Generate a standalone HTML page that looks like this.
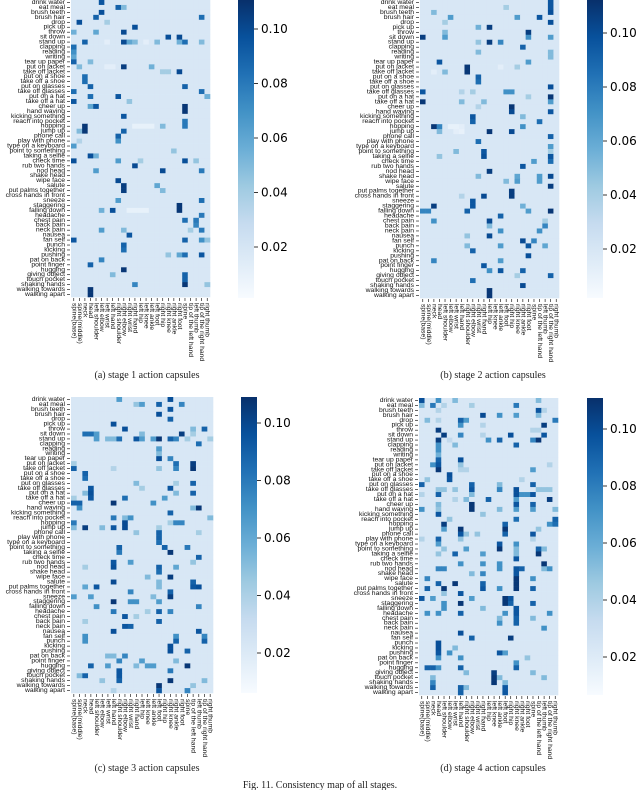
<!DOCTYPE html>
<html><head><meta charset="utf-8"><style>
html,body{margin:0;padding:0;background:#fff;}
</style></head><body>
<svg id="fig" width="640" height="790" viewBox="0 0 640 790" xmlns="http://www.w3.org/2000/svg" font-family="Liberation Sans, sans-serif"></svg>
<script>
const actions = ["drink water","eat meal","brush teeth","brush hair","drop","pick up","throw","sit down","stand up","clapping","reading","writing","tear up paper","put on jacket","take off jacket","put on a shoe","take off a shoe","put on glasses","take off glasses","put on a hat","take off a hat","cheer up","hand waving","kicking something","reach into pocket","hopping","jump up","phone call","play with phone","type on a keyboard","point to something","taking a selfie","check time","rub two hands","nod head","shake head","wipe face","salute","put palms together","cross hands in front","sneeze","staggering","falling down","headache","chest pain","back pain","neck pain","nausea","fan self","punch","kicking","pushing","pat on back","point finger","hugging","giving object","touch pocket","shaking hands","walking towards","walking apart"];
const joints = ["spine(base)","spine(middle)","neck","head","left shoulder","left elbow","left wrist","left hand","right shoulder","right elbow","right wrist","right hand","left hip","left knee","left ankle","left foot","right hip","right knee","right ankle","right foot","spine","tip of the left hand","left thumb","tip of the right hand","right thumb"];
const colorbarTicks = [0.10,0.08,0.06,0.04,0.02];
const colorbarTickLabels = ["0.10","0.08","0.06","0.04","0.02"];
const baseValue = 0.018;
const stage1Hot = [[0,5,.095],[1,8,.09],[1,9,.05],[2,5,.098],[3,4,.09],[3,23,.085],[4,1,.098],[4,6,.04],[5,11,.098],[6,0,.055],[6,4,.06],[6,9,.1],[7,17,.098],[7,19,.1],[8,2,.09],[8,9,.1],[8,10,.06],[8,11,.05],[8,15,.05],[8,19,.055],[8,20,.085],[8,23,.05],[9,0,.085],[10,0,.07],[11,0,.06],[12,0,.09],[12,3,.05],[13,1,.05],[13,9,.105],[13,14,.055],[14,16,.04],[14,17,.04],[14,19,.1],[15,2,.085],[16,2,.085],[17,3,.09],[17,20,.09],[18,0,.085],[18,23,.085],[19,3,.085],[19,8,.095],[19,24,.055],[20,0,.095],[20,10,.045],[21,3,.06],[21,4,.095],[21,20,.108],[22,20,.108],[23,9,.095],[24,20,.08],[25,2,.108],[25,16,.05],[25,20,.08],[26,1,.05],[26,2,.108],[26,9,.09],[27,8,.09],[28,1,.035],[28,8,.07],[29,0,.065],[30,18,.045],[31,3,.098],[31,4,.055],[32,0,.098],[32,8,.065],[32,12,.04],[32,20,.098],[32,22,.045],[33,11,.1],[34,4,.065],[34,16,.1],[34,23,.08],[36,8,.1],[37,9,.105],[37,15,.06],[38,9,.105],[38,16,.05],[40,8,.065],[40,23,.085],[41,19,.108],[42,19,.108],[42,5,.055],[42,7,.098],[43,23,.08],[44,20,.085],[44,22,.08],[45,22,.075],[46,5,.065],[46,9,.05],[46,21,.04],[46,23,.08],[47,10,.095],[48,0,.095],[48,20,.09],[48,23,.07],[48,24,.045],[49,9,.09],[50,9,.085],[51,17,.045],[51,19,.06],[51,20,.085],[51,23,.095],[52,5,.075],[53,3,.09],[54,9,.108],[55,7,.05],[55,20,.09],[56,20,.09],[57,11,.075],[57,20,.108],[57,24,.045],[58,3,.108],[59,3,.108],[25,11,.01],[25,12,.01],[25,13,.01],[25,14,.01],[42,10,.01],[42,11,.01],[42,12,.01],[42,13,.01],[8,6,.012],[8,13,.012],[13,6,.012],[13,7,.012]];
const stage2Hot = [[0,23,.095],[1,23,.095],[1,15,.04],[2,23,.098],[2,2,.05],[3,5,.065],[3,17,.065],[3,21,.095],[4,23,.098],[4,4,.04],[5,10,.055],[5,12,.105],[6,19,.105],[6,4,.05],[7,0,.105],[7,4,.065],[7,19,.07],[7,23,.065],[8,12,.105],[8,14,.075],[8,10,.045],[9,18,.09],[10,10,.05],[10,23,.05],[11,23,.05],[12,3,.095],[12,19,.065],[13,8,.108],[13,17,.04],[14,8,.108],[14,4,.05],[15,10,.09],[16,10,.085],[17,23,.098],[18,0,.095],[18,15,.07],[18,16,.07],[18,7,.035],[18,9,.04],[19,23,.108],[19,19,.04],[20,0,.108],[20,7,.05],[20,11,.05],[20,23,.065],[21,16,.108],[21,10,.035],[22,16,.1],[22,23,.095],[23,9,.095],[23,18,.05],[24,9,.09],[24,21,.085],[25,2,.108],[25,3,.075],[25,18,.07],[26,12,.108],[26,16,.1],[26,3,.05],[27,23,.09],[28,10,.085],[29,23,.065],[30,6,.05],[30,11,.095],[30,23,.04],[31,11,.098],[31,23,.095],[31,3,.045],[32,20,.065],[32,23,.085],[33,18,.095],[34,12,.105],[35,10,.05],[35,17,.06],[35,21,.065],[35,23,.1],[36,15,.05],[36,17,.065],[36,21,.065],[37,23,.105],[38,16,.105],[39,16,.105],[39,11,.1],[39,7,.035],[40,9,.095],[41,9,.095],[41,2,.105],[41,18,.055],[42,0,.075],[42,1,.075],[42,8,.09],[42,19,.065],[42,23,.108],[43,14,.09],[44,2,.07],[44,12,.1],[44,22,.04],[45,12,.05],[45,22,.075],[46,14,.07],[46,21,.07],[47,12,.1],[47,8,.045],[48,18,.1],[48,20,.075],[49,8,.05],[49,14,.065],[49,19,.095],[49,22,.06],[50,9,.09],[51,19,.098],[52,2,.075],[52,14,.065],[53,11,.095],[54,12,.07],[54,14,.095],[54,18,.09],[55,23,.09],[55,17,.04],[56,9,.085],[57,18,.1],[58,12,.108],[59,12,.108],[25,5,.01],[25,6,.01],[25,7,.012],[26,6,.012],[26,7,.01],[13,14,.012],[14,2,.012]];
const stage3Hot = [[0,8,.065],[0,17,.098],[1,11,.045],[1,12,.065],[1,15,.09],[1,19,.075],[2,17,.095],[3,15,.098],[4,17,.09],[5,7,.098],[6,9,.098],[6,21,.05],[6,23,.09],[7,2,.085],[7,3,.085],[7,4,.065],[7,12,.05],[7,19,.105],[7,21,.04],[8,4,.065],[8,6,.05],[8,7,.05],[8,8,.085],[8,11,.095],[8,12,.065],[8,14,.065],[8,15,.108],[8,17,.09],[8,18,.075],[8,20,.04],[8,24,.04],[9,22,.085],[10,15,.065],[11,15,.05],[12,15,.098],[12,17,.075],[13,18,.085],[13,0,.04],[13,21,.105],[14,0,.09],[14,21,.108],[14,18,.075],[14,15,.045],[14,7,.035],[15,2,.09],[16,2,.085],[17,21,.09],[17,11,.05],[17,18,.04],[18,3,.095],[18,17,.095],[18,12,.04],[19,3,.098],[19,21,.09],[19,2,.05],[19,18,.05],[20,3,.095],[20,9,.085],[20,16,.065],[20,0,.04],[21,0,.09],[21,1,.09],[21,7,.108],[21,14,.07],[22,1,.07],[22,22,.108],[22,21,.05],[23,17,.09],[24,7,.08],[24,10,.07],[24,9,.05],[24,24,.05],[25,0,.08],[25,9,.1],[25,18,.075],[25,19,.075],[25,17,.04],[26,0,.05],[26,2,.105],[26,5,.05],[26,7,.095],[26,9,.1],[26,15,.04],[27,15,.09],[27,11,.045],[27,22,.04],[28,15,.09],[29,15,.085],[30,8,.09],[30,16,.09],[30,20,.08],[31,8,.08],[31,17,.108],[32,22,.09],[33,7,.095],[33,10,.065],[33,21,.045],[34,7,.098],[34,15,.09],[34,18,.06],[34,2,.04],[35,15,.085],[36,17,.105],[36,13,.05],[37,7,.1],[37,21,.09],[37,15,.05],[38,4,.095],[38,2,.06],[38,21,.095],[38,22,.098],[38,15,.05],[39,10,.075],[39,17,.09],[40,0,.065],[40,3,.065],[40,14,.05],[40,17,.105],[41,7,.108],[41,10,.07],[41,11,.07],[41,15,.065],[42,4,.07],[42,22,.075],[43,7,.08],[43,15,.09],[43,17,.075],[43,13,.04],[44,9,.095],[44,11,.04],[45,15,.09],[45,2,.04],[46,9,.095],[46,10,.09],[47,7,.098],[47,22,.095],[48,2,.07],[48,18,.07],[48,23,.075],[49,2,.07],[49,18,.09],[49,23,.09],[50,17,.098],[51,17,.098],[51,20,.09],[52,6,.05],[52,7,.05],[52,9,.075],[53,8,.075],[53,12,.065],[53,18,.05],[54,3,.09],[54,6,.065],[54,11,.05],[54,13,.065],[54,14,.065],[54,20,.108],[55,8,.095],[55,17,.08],[56,1,.05],[56,2,.09],[56,8,.095],[57,5,.045],[57,8,.09],[57,17,.108],[57,23,.05],[58,15,.108],[58,21,.045],[59,15,.095],[59,20,.075],[59,7,.035]];
const stage4Hot = [[0,0,.098],[0,3,.07],[0,6,.05],[0,21,.05],[1,0,.05],[1,2,.08],[1,4,.035],[1,9,.04],[1,17,.08],[2,21,.095],[2,3,.035],[2,22,.035],[3,11,.1],[3,14,.07],[3,17,.065],[3,21,.05],[4,1,.05],[4,3,.035],[4,7,.09],[4,8,.065],[4,24,.08],[5,7,.07],[5,22,.105],[5,11,.035],[6,3,.105],[6,20,.035],[6,21,.035],[7,4,.105],[7,7,.075],[7,16,.098],[7,22,.095],[7,11,.035],[8,3,.105],[8,12,.07],[8,14,.09],[8,20,.075],[8,21,.108],[8,5,.03],[9,3,.07],[9,6,.05],[9,17,.09],[10,3,.07],[11,3,.055],[12,3,.09],[12,7,.098],[13,2,.07],[13,3,.095],[13,7,.045],[13,23,.035],[14,3,.108],[14,7,.035],[14,8,.035],[14,20,.065],[15,5,.098],[16,5,.095],[16,1,.045],[16,18,.035],[17,0,.09],[17,9,.09],[17,14,.05],[17,20,.09],[18,3,.045],[18,4,.045],[18,6,.045],[18,9,.095],[18,14,.075],[18,17,.098],[18,21,.045],[18,22,.045],[18,23,.045],[19,0,.035],[19,3,.09],[19,9,.05],[19,17,.098],[19,18,.07],[19,19,.07],[19,20,.095],[20,6,.035],[20,8,.05],[20,12,.09],[20,17,.065],[20,23,.105],[21,3,.05],[21,9,.108],[21,17,.095],[21,20,.09],[22,0,.07],[22,3,.045],[22,9,.108],[22,14,.05],[22,17,.065],[22,20,.065],[22,24,.05],[23,3,.095],[23,11,.045],[24,5,.045],[24,17,.085],[24,24,.09],[25,4,.105],[25,15,.09],[25,23,.07],[25,24,.085],[26,4,.065],[26,7,.108],[26,15,.108],[26,21,.045],[27,7,.095],[27,8,.045],[27,10,.045],[27,15,.09],[27,20,.095],[28,3,.09],[28,0,.035],[28,7,.045],[28,20,.035],[29,3,.065],[29,14,.095],[29,17,.07],[30,4,.045],[30,8,.065],[30,14,.108],[30,17,.05],[30,21,.09],[30,22,.05],[31,6,.09],[31,3,.045],[31,11,.065],[31,21,.108],[31,17,.05],[32,17,.095],[33,7,.07],[33,11,.07],[33,14,.07],[33,22,.108],[34,3,.075],[34,4,.075],[34,14,.07],[34,17,.095],[34,18,.09],[34,23,.07],[34,22,.05],[35,9,.05],[35,11,.075],[35,17,.095],[36,1,.075],[36,17,.108],[36,20,.07],[37,3,.09],[37,6,.108],[37,11,.09],[37,17,.108],[38,1,.09],[38,4,.108],[38,11,.095],[38,14,.07],[38,17,.108],[38,20,.09],[39,7,.095],[39,4,.045],[40,0,.095],[40,2,.065],[40,9,.065],[40,15,.108],[40,16,.095],[41,4,.07],[41,7,.108],[41,15,.108],[41,16,.09],[41,20,.09],[42,4,.07],[42,11,.05],[42,17,.095],[43,1,.07],[43,3,.07],[43,7,.09],[43,15,.07],[43,17,.095],[43,23,.07],[44,14,.05],[44,17,.09],[44,20,.05],[45,14,.07],[45,17,.09],[46,22,.07],[47,7,.098],[48,9,.09],[48,16,.105],[49,3,.098],[50,3,.098],[50,6,.05],[51,3,.095],[51,5,.07],[51,14,.095],[51,15,.065],[52,3,.07],[52,7,.07],[52,19,.045],[53,17,.07],[54,1,.09],[54,2,.09],[54,3,.07],[54,7,.09],[54,17,.09],[55,8,.05],[55,13,.105],[55,20,.05],[56,2,.05],[56,13,.108],[56,14,.05],[56,22,.05],[57,13,.108],[57,2,.075],[57,15,.05],[58,2,.09],[58,7,.09],[58,8,.05],[58,15,.095],[59,7,.09],[59,15,.095]];

const NS = "http://www.w3.org/2000/svg";
const svg = document.getElementById('fig');
const vmin = 0.001, vmax = 0.111;
const stops = [[0,[247,251,255]],[0.125,[222,235,247]],[0.25,[198,219,239]],[0.375,[158,202,225]],[0.5,[107,174,214]],[0.625,[66,146,198]],[0.75,[33,113,181]],[0.875,[8,81,156]],[1,[8,48,107]]];
function colorFor(v){
  let t = Math.max(0, Math.min(1, (v - vmin) / (vmax - vmin)));
  for (let i = 1; i < stops.length; i++) {
    if (t <= stops[i][0]) {
      const a = stops[i-1], b = stops[i], f = (t - a[0]) / (b[0] - a[0]);
      const c = a[1].map((x, k) => Math.round(x + (b[1][k] - x) * f));
      return 'rgb(' + c.join(',') + ')';
    }
  }
  return 'rgb(8,48,107)';
}
function mk(tag, attrs, parent){
  const e = document.createElementNS(NS, tag);
  for (const k in attrs) e.setAttribute(k, attrs[k]);
  parent.appendChild(e);
  return e;
}
const panels = [
  {id:'stage1', hot:stage1Hot, hx:71, hy:0, hw:139, hh:297, cbx:238, cby:0, cbh:298, t10:29, tstep:54.5, cap:'(a) stage 1 action capsules', capx:147, capy:378},
  {id:'stage2', hot:stage2Hot, hx:420, hy:0, hw:139, hh:298, cbx:587, cby:0, cbh:298, t10:33, tstep:54, cap:'(b) stage 2 action capsules', capx:493, capy:378},
  {id:'stage3', hot:stage3Hot, hx:71, hy:397, hw:142, hh:296, cbx:241, cby:397, cbh:296, t10:423, tstep:57.5, cap:'(c) stage 3 action capsules', capx:147, capy:771},
  {id:'stage4', hot:stage4Hot, hx:419, hy:398, hw:139, hh:297, cbx:587, cby:398, cbh:297, t10:429, tstep:57, cap:'(d) stage 4 action capsules', capx:493, capy:771}
];
const defs = mk('defs', {}, svg);
const grad = mk('linearGradient', {id:'blues', x1:0, y1:1, x2:0, y2:0}, defs);
stops.forEach(s => mk('stop', {offset: s[0], 'stop-color': 'rgb(' + s[1].join(',') + ')'}, grad));

panels.forEach(p => {
  const g = mk('g', {}, svg);
  
  
  const nR = actions.length, nC = joints.length;
  const rh = p.hh / nR, cw = p.hw / nC;
  const xScale = c => p.hx + c * cw;
  const yScale = r => p.hy + r * rh;
  const grid = actions.map(() => joints.map(() => baseValue));
  p.hot.forEach(h => { grid[h[0]][h[1]] = h[2]; });
  const cells = mk('g', {}, g);
  
  
  grid.forEach((row, r) => row.forEach((v, c) => {
    const rect = mk('rect', {x: xScale(c).toFixed(2), y: yScale(r).toFixed(2), width: (cw + 0.3).toFixed(2), height: (rh + 0.3).toFixed(2), fill: colorFor(v)}, cells);
    
    
  }));
  actions.forEach((a, r) => {
    const y = yScale(r + 0.5);
    mk('line', {x1: p.hx - 4, x2: p.hx - 1, y1: y, y2: y, stroke: '#000', 'stroke-width': 0.6}, g);
    const t = mk('text', {x: p.hx - 6, y: y, 'font-size': 6.8, 'text-anchor': 'end', 'dominant-baseline': 'central', fill: '#111'}, g);
    t.textContent = a;
    
    
  });
  joints.forEach((j, c) => {
    const x = xScale(c + 0.5);
    const by = p.hy + p.hh;
    mk('line', {x1: x, x2: x, y1: by + 1, y2: by + 4, stroke: '#000', 'stroke-width': 0.6}, g);
    const t = mk('text', {x: x, y: by + 6, 'font-size': 6.8, 'text-anchor': 'start', 'dominant-baseline': 'central', fill: '#111', transform: 'rotate(90 ' + x + ' ' + (by + 6) + ')'}, g);
    t.textContent = j;
    
    
  });
  const cb = mk('rect', {x: p.cbx, y: p.cby, width: 16, height: p.cbh, fill: 'url(#blues)'}, g);
  
  
  colorbarTicks.forEach((v, i) => {
    const y = p.t10 + (0.10 - v) / 0.02 * p.tstep;
    mk('line', {x1: p.cbx + 16, x2: p.cbx + 20, y1: y, y2: y, stroke: '#000', 'stroke-width': 0.8}, g);
    const t = mk('text', {x: p.cbx + 23, y: y, 'font-size': 12, 'dominant-baseline': 'central', fill: '#000', style: 'font-family:"DejaVu Sans",sans-serif'}, g);
    t.textContent = colorbarTickLabels[i];
    
    
  });
  const cap = mk('text', {x: p.capx, y: p.capy, 'font-size': 10, 'text-anchor': 'middle', fill: '#222', style: 'font-family:"Liberation Serif",serif'}, g);
  cap.textContent = p.cap;
  
  
});
const fc = mk('text', {x: 320, y: 788, 'font-size': 10, 'text-anchor': 'middle', fill: '#222', style: 'font-family:"Liberation Serif",serif'}, svg);
fc.textContent = 'Fig. 11.  Consistency map of all stages.';


</script>
</body></html>
